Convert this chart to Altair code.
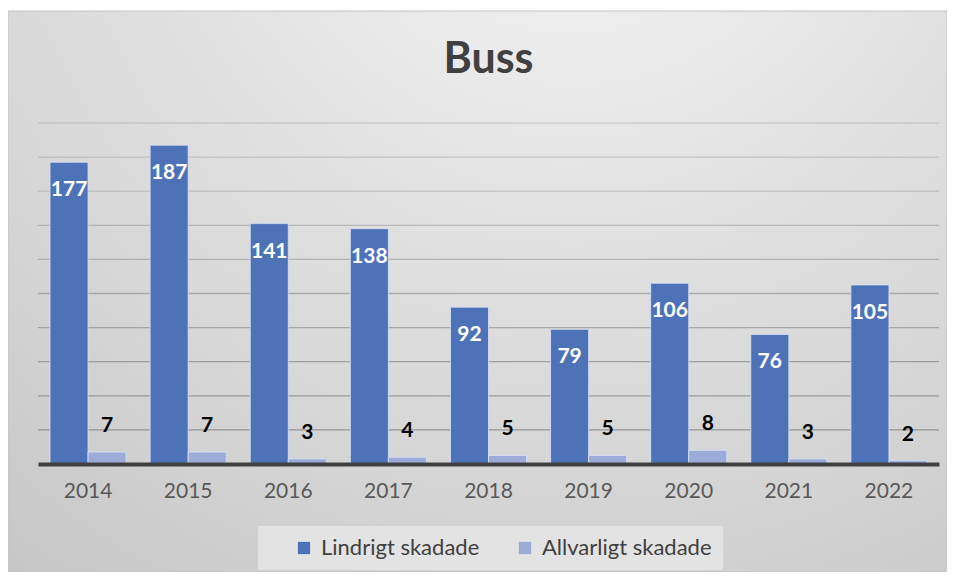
import altair as alt
import pandas as pd

# ---- data ----
years = ["2014", "2015", "2016", "2017", "2018", "2019", "2020", "2021", "2022"]
lindrigt = [177, 187, 141, 138, 92, 79, 106, 76, 105]
allvarligt = [7, 7, 3, 4, 5, 5, 8, 3, 2]
series_names = ["Lindrigt skadade", "Allvarligt skadade"]
series_colors = ["#4e72b8", "#9dabd9"]
grid_values = [20, 40, 60, 80, 100, 120, 140, 160, 180, 200]

rows = []
for yr, a, b in zip(years, lindrigt, allvarligt):
    rows.append({"year": yr, "serie": series_names[0], "value": a})
    rows.append({"year": yr, "serie": series_names[1], "value": b})
df = pd.DataFrame(rows)
grid_df = pd.DataFrame({"v": grid_values})
bg_df = pd.DataFrame({"k": [0]})

FONT = "Lato"
W, H = 901, 341

y_scale = alt.Scale(domain=[0, 200], nice=False, zero=True)
x_enc = alt.X(
    "year:N", sort=years,
    scale=alt.Scale(paddingInner=0.24, paddingOuter=0.12),
    axis=alt.Axis(title=None, labelFont=FONT, labelFontSize=21, labelColor="#595959",
                  ticks=False, domainColor="#404040", domainWidth=4, labelPadding=16,
                  labelAngle=0, grid=False, zindex=1),
)
xo_enc = alt.XOffset("serie:N", sort=series_names,
                     scale=alt.Scale(domain=series_names, paddingInner=0, paddingOuter=0))

gradient = {
    "gradient": "radial",
    "x1": 0.6, "y1": 0.0, "r1": 0.0,
    "x2": 0.6, "y2": 0.0, "r2": 1.0,
    "stops": [
        {"offset": 0.0, "color": "#f7f7f7"},
        {"offset": 0.45, "color": "#e1e1e1"},
        {"offset": 0.8, "color": "#d1d1d1"},
        {"offset": 1.0, "color": "#c6c6c6"},
    ],
}

background = alt.Chart(bg_df).mark_rect(fill=gradient, stroke="#c4c4c4", strokeWidth=1).encode(
    x=alt.value(-30), x2=alt.value(W + 8), y=alt.value(-112), y2=alt.value(H + 108)
)

grid = alt.Chart(grid_df).mark_rule(color="#7a7a7a", strokeWidth=1.3).encode(
    y=alt.Y("v:Q", scale=y_scale, axis=None),
    strokeOpacity=alt.StrokeOpacity("v:Q", scale=alt.Scale(domain=[20, 200], range=[0.7, 0.22]),
                                    legend=None),
)

bars = alt.Chart(df).mark_bar(stroke="#dbe2f5", strokeWidth=1, strokeOpacity=0.8).encode(
    x=x_enc,
    xOffset=xo_enc,
    y=alt.Y("value:Q", scale=y_scale, axis=None),
    color=alt.Color(
        "serie:N", sort=series_names,
        scale=alt.Scale(domain=series_names, range=series_colors),
        legend=alt.Legend(title=None, orient="none", legendX=220, legendY=403,
                          direction="horizontal", symbolType="square", symbolSize=150,
                          symbolStrokeWidth=0, labelFont=FONT, labelFontSize=22,
                          labelColor="#404040", labelLimit=400, gridAlign="none",
                          fillColor="#e3e3e3", padding=11,
                          symbolOffset=24, columnPadding=10, labelOffset=6, zindex=1),
    ),
)

labels_dark = alt.Chart(df).transform_filter(
    alt.datum.serie == series_names[0]
).mark_text(font=FONT, fontSize=21, fontWeight="bold", color="#ffffff",
            baseline="middle", dy=28).encode(
    x=x_enc, xOffset=xo_enc,
    y=alt.Y("value:Q", scale=y_scale, axis=None),
    text="value:Q",
)

labels_light = alt.Chart(df).transform_filter(
    alt.datum.serie == series_names[1]
).mark_text(font=FONT, fontSize=21, fontWeight="bold", color="#000000",
            baseline="middle", dy=-26).encode(
    x=x_enc, xOffset=xo_enc,
    y=alt.Y("value:Q", scale=y_scale, axis=None),
    text="value:Q",
)

chart = alt.layer(background, grid, bars, labels_dark, labels_light).properties(
    width=W, height=H,
    autosize=alt.AutoSizeParams(type="none"),
    padding={"left": 30, "top": 115, "right": 8, "bottom": 108},
    title=alt.TitleParams("Buss", font=FONT, fontSize=43, fontWeight="bold", color="#404040",
                          anchor="middle", frame="group", baseline="alphabetic",
                          offset=-105, zindex=1),
).configure_view(strokeWidth=0)

chart.save("out.html", embed_options={"renderer": "svg", "actions": False})
